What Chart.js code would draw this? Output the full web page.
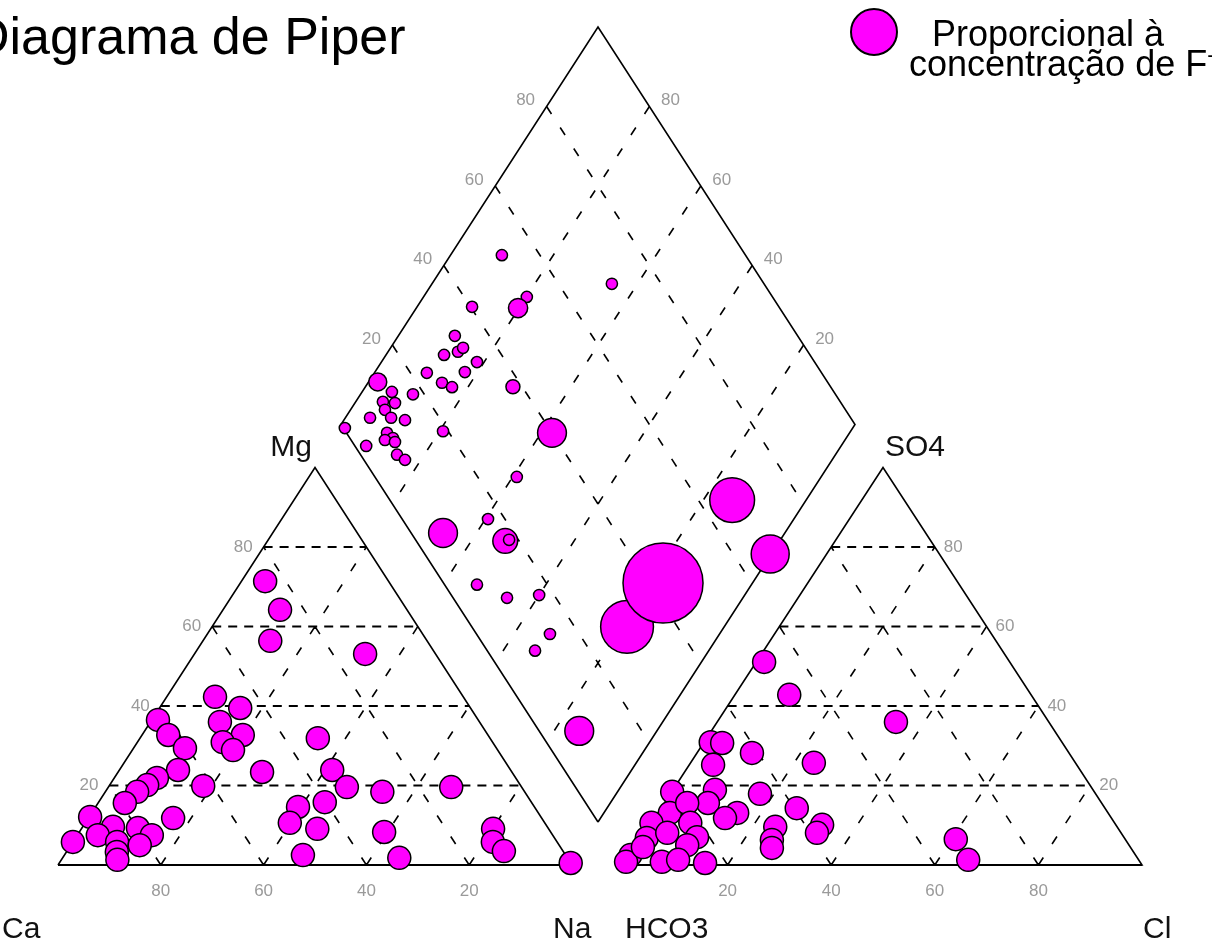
<!DOCTYPE html>
<html><head><meta charset="utf-8">
<script src="https://cdn.jsdelivr.net/npm/chart.js@4.4.1/dist/chart.umd.min.js"></script>
<style>
html,body{margin:0;padding:0;background:#fff;overflow:hidden;width:1212px;height:945px}
#wrap{position:relative;width:1212px;height:945px;overflow:hidden}
canvas{position:absolute;left:0;top:0}
.t{position:absolute;font-family:"Liberation Sans",Arial,sans-serif;color:#000;white-space:nowrap;line-height:1}
</style></head><body>
<div id="wrap">
<canvas id="c" width="1212" height="945"></canvas>
<div class="t" style="left:-28px;top:10px;font-size:52px">Diagrama de Piper</div>
<div style="position:absolute;left:850px;top:8px;width:48px;height:48px;border-radius:50%;background:#ff00ff;border:2px solid #000;box-sizing:border-box"></div>
<div class="t" style="left:932px;top:16px;font-size:36px">Proporcional à</div>
<div class="t" style="left:909px;top:46px;font-size:36px">concentração de F<span style="font-size:22px;position:relative;top:-14px">-</span></div>
</div>
<script>
// ---------- DATA ----------
const tickLevels = [20, 40, 60, 80];
const tickLabels = ['20', '40', '60', '80'];
const cornerLabels = { ca: 'Ca', mg: 'Mg', na: 'Na', hco3: 'HCO3', so4: 'SO4', cl: 'Cl' };

// Cation triangle (% meq): Ca and Mg (Na+K = 100 - Ca - Mg)
const cationCa = [24.0,24.7,30.5,13.7,48.3,44.8,50.5,47.7,52.5,51.5,62.3,62.2,60.6,64.7,69.8,72.6,48.6,61.8,75.4,79.2,87.7,71.7,84.5,79.8,88.5,78.0,94.2,85.6,81.6,86.9,87.8,46.0,49.6,51.1,33.5,34.7,34.0,27.7,13.7,40.2,45.0,32.4,32.7,10.8,12.5,11.5,0.0];
const cationMg = [71.4,64.2,56.4,53.1,42.3,39.5,36.0,32.7,30.9,28.9,36.5,32.7,29.4,23.9,21.9,20.1,23.4,19.9,18.4,15.6,12.1,11.8,9.6,9.3,7.5,7.5,5.8,5.8,5.0,3.3,1.3,14.6,10.6,2.5,31.9,23.9,19.6,18.4,19.6,15.8,9.1,8.3,1.8,9.1,5.8,3.5,0.5];

// Anion triangle (% meq): Cl and SO4 (HCO3 = 100 - Cl - SO4)
const anionCl  = [1.5,10.5,1.3,3.6,10.6,4.6,23.8,34.5,8.1,0.1,17.3,8.4,26.2,15.3,2.3,4.4,13.6,0.0,33.2,24.4,7.5,33.2,25.4,26.4,1.0,10.6,4.3,9.7,0.0,6.9,9.8,15.4,0.0,1.4,60.8,65.8];
const anionSO4 = [51.1,42.8,30.9,30.7,28.2,25.2,25.7,36.0,18.9,18.4,17.9,15.6,14.3,13.1,13.1,15.6,11.8,10.6,10.1,9.6,10.6,8.1,6.3,4.3,6.8,7.0,8.1,5.0,2.5,0.8,1.3,0.5,0.8,4.5,6.5,1.3];

// Diamond: SO4+Cl (%) and Ca+Mg (%), with fluoride concentration (mg/L) setting the bubble size
const diamondSO4Cl = [52.6,70.4,52.2,49.1,40.3,33.3,28.8,31.9,33.4,34.3,30.7,23.2,24.9,26.3,38.2,12.5,14.0,17.8,13.2,11.0,10.4,6.5,10.6,13.0,0.3,19.0,7.9,8.4,6.6,8.3,2.2,7.1,8.0,40.0,27.6,6.2,16.7,17.3,18.2,6.3,10.5,17.1,14.3,9.3,66.6,67.2,30.2,42.7,7.8];
const diamondCaMg  = [90.0,65.0,79.9,80.2,89.3,89.0,88.7,86.4,85.9,81.4,82.5,89.8,85.6,83.1,71.3,98.2,94.2,89.8,92.2,94.7,93.3,95.2,91.1,88.1,98.8,79.3,90.0,88.2,89.5,87.3,92.4,85.3,83.1,57.9,59.2,66.5,59.5,53.4,52.8,53.4,45.9,40.0,33.0,33.8,14.4,0.2,18.9,17.4,15.1];
const fluoride     = [1.4,1.4,1.4,2.4,1.4,1.4,1.4,1.4,1.4,1.4,1.4,1.4,1.4,1.4,1.75,2.25,1.4,1.4,1.4,1.4,1.4,1.4,1.4,1.4,1.4,1.4,1.4,1.4,1.4,1.4,1.4,1.4,1.4,3.6,1.4,3.6,1.4,3.1,1.4,1.4,1.4,1.4,1.4,1.4,5.6,4.75,6.6,10.0,3.6];

// ---------- LAYOUT (diagram geometry in scale units) ----------
const LEFT  = { a: [58, 865],  b: [572, 865],  c: [315, 467.5] };   // Ca, Na, Mg
const RIGHT = { a: [624, 865], b: [1142, 865], c: [883, 467.5] };   // HCO3, Cl, SO4
const DIA   = { B: [598, 822], R: [855, 424.5], L: [341, 424.5], T: [598, 27] };
const TRI_R = 11.5, F_SCALE = 4;

function tri(g, pa, pb, pc) {
  return { x: (pa * g.a[0] + pb * g.b[0] + pc * g.c[0]) / 100,
           y: (pa * g.a[1] + pb * g.b[1] + pc * g.c[1]) / 100 };
}
function dia(s, t) {
  const B = DIA.B;
  return { x: B[0] + s / 100 * (DIA.R[0] - B[0]) + t / 100 * (DIA.L[0] - B[0]),
           y: B[1] + s / 100 * (DIA.R[1] - B[1]) + t / 100 * (DIA.L[1] - B[1]) };
}
const GAP = { x: null, y: null };

// frames
const frame = [];
[LEFT, RIGHT].forEach(g => { frame.push(tri(g,100,0,0), tri(g,0,100,0), tri(g,0,0,100), tri(g,100,0,0), GAP); });
frame.push(dia(0,0), dia(100,0), dia(100,100), dia(0,100), dia(0,0));
const bases = [tri(LEFT,100,0,0), tri(LEFT,0,100,0), GAP, tri(RIGHT,100,0,0), tri(RIGHT,0,100,0)];

// dashed grid
const horiz = [], diag = [];
[LEFT, RIGHT].forEach(g => {
  tickLevels.forEach(v => {
    horiz.push(tri(g, 100 - v, 0, v), tri(g, 0, 100 - v, v), GAP);
    diag.push(tri(g, v, 100 - v, 0), tri(g, v, 0, 100 - v), GAP);
    diag.push(tri(g, 100 - v, v, 0), tri(g, 0, v, 100 - v), GAP);
  });
});
tickLevels.forEach(v => {
  diag.push(dia(v, 100), dia(v, 0), GAP);
  diag.push(dia(100, v), dia(0, v), GAP);
});

const cationPts = cationCa.map((ca, i) => tri(LEFT, ca, 100 - ca - cationMg[i], cationMg[i]));
const anionPts  = anionCl.map((cl, i) => tri(RIGHT, 100 - cl - anionSO4[i], cl, anionSO4[i]));
const diaPts    = diamondSO4Cl.map((s, i) => dia(s, diamondCaMg[i]));

const lineDs = (data, w, dash, order) => ({ data, showLine: true, pointRadius: 0, borderColor: '#000',
  borderWidth: w, borderDash: dash, fill: false, order, clip: false, spanGaps: false });
const ptDs = (data, radius) => ({ data, showLine: false, pointRadius: radius, pointHoverRadius: radius,
  pointBackgroundColor: '#ff00ff', pointBorderColor: '#000', pointBorderWidth: 1.5, order: 0, clip: false });

// ---------- TEXT ----------
const textPlugin = {
  id: 'piperText',
  afterDatasetsDraw(chart) {
    const ctx = chart.ctx, xs = chart.scales.x, ys = chart.scales.y;
    const P = p => [xs.getPixelForValue(p.x), ys.getPixelForValue(p.y)];
    ctx.save();
    ctx.font = '17px "Liberation Sans", Arial, sans-serif';
    ctx.fillStyle = '#9a9a9a';
    ctx.textBaseline = 'middle';
    tickLevels.forEach((v, i) => {
      const lab = tickLabels[i];
      let p;
      p = P(tri(LEFT, 100 - v, 0, v)); ctx.textAlign = 'right'; ctx.fillText(lab, p[0] - 11, p[1]);
      p = P(tri(LEFT, v, 100 - v, 0)); ctx.textAlign = 'center'; ctx.fillText(lab, p[0], p[1] + 26);
      p = P(tri(RIGHT, 0, 100 - v, v)); ctx.textAlign = 'left'; ctx.fillText(lab, p[0] + 9, p[1]);
      p = P(tri(RIGHT, 100 - v, v, 0)); ctx.textAlign = 'center'; ctx.fillText(lab, p[0], p[1] + 26);
      p = P(dia(v, 100)); ctx.textAlign = 'center'; ctx.fillText(lab, p[0] - 21, p[1] - 6);
      p = P(dia(100, v)); ctx.fillText(lab, p[0] + 21, p[1] - 6);
    });
    ctx.font = '30px "Liberation Sans", Arial, sans-serif';
    ctx.fillStyle = '#111';
    ctx.textBaseline = 'alphabetic';
    let p;
    p = P({ x: LEFT.c[0], y: LEFT.c[1] }); ctx.textAlign = 'center'; ctx.fillText(cornerLabels.mg, p[0] - 24, p[1] - 12);
    p = P({ x: RIGHT.c[0], y: RIGHT.c[1] }); ctx.fillText(cornerLabels.so4, p[0] + 32, p[1] - 12);
    ctx.textAlign = 'left';
    p = P({ x: LEFT.a[0], y: LEFT.a[1] }); ctx.fillText(cornerLabels.ca, p[0] - 56, p[1] + 73);
    p = P({ x: LEFT.b[0], y: LEFT.b[1] }); ctx.fillText(cornerLabels.na, p[0] - 19, p[1] + 73);
    p = P({ x: RIGHT.a[0], y: RIGHT.a[1] }); ctx.fillText(cornerLabels.hco3, p[0] + 1, p[1] + 73);
    p = P({ x: RIGHT.b[0], y: RIGHT.b[1] }); ctx.fillText(cornerLabels.cl, p[0] + 1, p[1] + 73);
    ctx.restore();
  }
};

new Chart(document.getElementById('c'), {
  type: 'scatter',
  data: { datasets: [
    ptDs(cationPts, TRI_R),
    ptDs(anionPts, TRI_R),
    ptDs(diaPts, fluoride.map(f => f * F_SCALE)),
    lineDs(frame, 1.6, [], 3),
    lineDs(bases, 2.2, [], 3),
    lineDs(horiz, 2, [9, 7], 4),
    lineDs(diag, 1.6, [9, 16], 4)
  ] },
  options: {
    responsive: false, animation: false, events: [], devicePixelRatio: 1,
    layout: { padding: 0, autoPadding: false },
    plugins: { legend: { display: false }, tooltip: { enabled: false }, title: { display: false } },
    scales: {
      x: { type: 'linear', min: 0, max: 1212, display: false },
      y: { type: 'linear', min: 0, max: 945, reverse: true, display: false }
    },
    elements: { line: { tension: 0 } }
  },
  plugins: [textPlugin]
});
</script>
</body></html>
